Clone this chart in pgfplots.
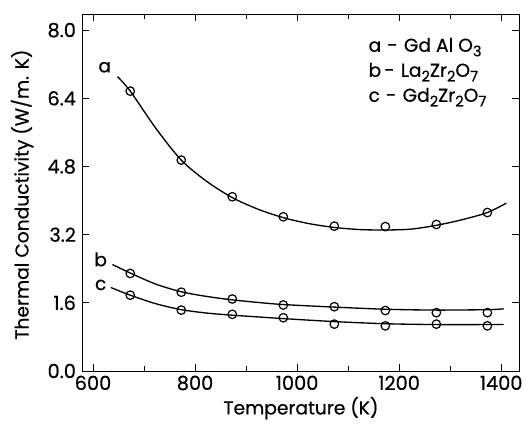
\documentclass[border=0pt]{standalone}
\usepackage{fontspec}
\setmainfont{Poppins}[FakeBold=0.5]
\usepackage{pgfplots}
\pgfplotsset{compat=1.18}
\newcommand{\sub}[1]{\raisebox{-0.45ex}{\fontsize{11}{12}\selectfont #1}}
\begin{document}
\begin{tikzpicture}
\begin{axis}[
  scale only axis, width=327.75pt, height=267.75pt,
  xmin=578.4, xmax=1435, ymin=0, ymax=8.38,
  xtick={600,800,1000,1200,1400},
  minor xtick={700,900,1100,1300},
  ytick={0,1.6,3.2,4.8,6.4,8.0},
  xticklabel style={/pgf/number format/.cd, set thousands separator={}},
  yticklabel style={/pgf/number format/.cd, fixed, fixed zerofill, precision=1},
  /pgf/number format/assume math mode=true,
  tick align=inside, major tick length=5pt, minor tick length=4pt,
  tick style={black, line width=0.6pt},
  axis line style={line width=0.7pt},
  tick label style={font=\fontsize{14.5}{16}\selectfont},
  font=\fontsize{14}{16}\selectfont,
  clip=false,
  xticklabel shift=0pt,
  yticklabel shift=1pt,
]
% fitted curves
\addplot[black, line width=1pt, smooth, tension=0.5] coordinates {
 (648,6.91) (673,6.57) (723,5.70) (773,4.95) (823,4.45) (873,4.07) (923,3.80) (973,3.60) (1023,3.46) (1073,3.37) (1123,3.32) (1173,3.31) (1223,3.33) (1273,3.42) (1323,3.55) (1373,3.72) (1410,3.94)};
\addplot[black, line width=1pt, smooth, tension=0.5] coordinates {
 (638,2.50) (673,2.30) (723,2.04) (773,1.86) (823,1.75) (873,1.67) (923,1.61) (973,1.56) (1073,1.50) (1173,1.45) (1273,1.43) (1373,1.44) (1405,1.46)};
\addplot[black, line width=1pt, smooth, tension=0.5] coordinates {
 (635,1.96) (673,1.78) (723,1.58) (773,1.44) (823,1.36) (873,1.31) (923,1.27) (973,1.23) (1073,1.16) (1173,1.11) (1273,1.09) (1373,1.09) (1405,1.09)};
% measured points
\addplot[only marks, mark=o, mark size=3.2pt, mark options={black, fill=white, line width=0.9pt}] coordinates {
 (673,6.57) (773,4.95) (873,4.09) (973,3.62) (1073,3.40) (1173,3.39) (1273,3.44) (1373,3.72)};
\addplot[only marks, mark=o, mark size=3.2pt, mark options={black, fill=white, line width=0.9pt}] coordinates {
 (673,2.29) (773,1.85) (873,1.69) (973,1.55) (1073,1.51) (1173,1.42) (1273,1.37) (1373,1.37)};
\addplot[only marks, mark=o, mark size=3.2pt, mark options={black, fill=white, line width=0.9pt}] coordinates {
 (673,1.78) (773,1.43) (873,1.33) (973,1.25) (1073,1.10) (1173,1.06) (1273,1.10) (1373,1.06)};
% curve labels
\node at (axis cs:623,7.13) {a};
\node at (axis cs:615,2.62) {b};
\node at (axis cs:615,2.02) {c};
% legend text
\node[anchor=west] at (rel axis cs:0.645,0.907) {a\,\,-\,\,Gd Al O\sub{3}};
\node[anchor=west] at (rel axis cs:0.645,0.837) {b\,-\,\,La\sub{2}Zr\sub{2}O\sub{7}};
\node[anchor=west] at (rel axis cs:0.645,0.767) {c\,\,-\,\,Gd\sub{2}Zr\sub{2}O\sub{7}};
% axis labels
\node at (rel axis cs:0.501,-0.104) {Temperature (K)};
\node[rotate=90] at (rel axis cs:-0.137,0.494) {Thermal Conductivity (W/m. K)};
% bounding box matching the reference
\path (rel axis cs:-0.1876,-0.1289) rectangle (rel axis cs:1.0183,1.0392);
\end{axis}
\end{tikzpicture}
\end{document}
